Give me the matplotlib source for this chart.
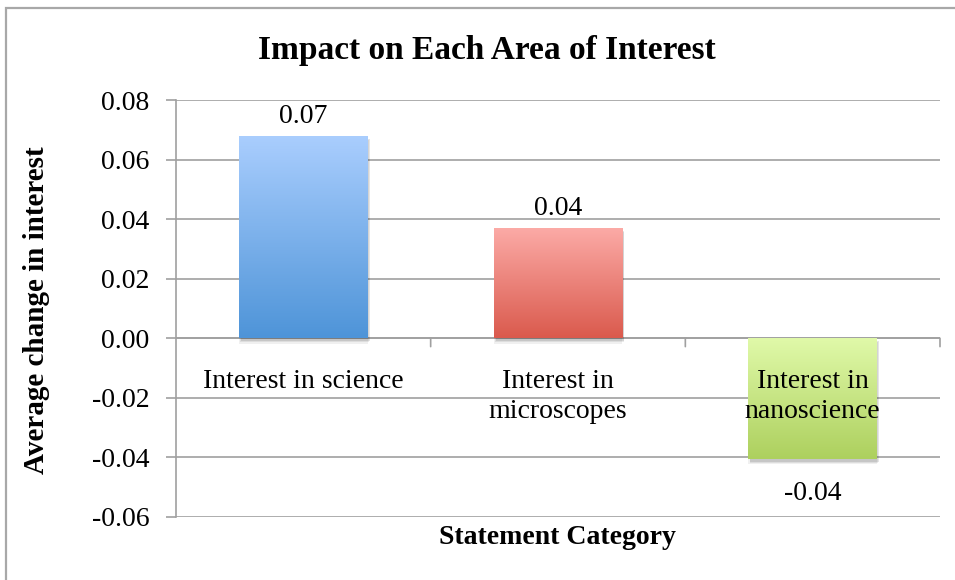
import numpy as np
import matplotlib
matplotlib.use("Agg")
import matplotlib.pyplot as plt
from matplotlib.colors import LinearSegmentedColormap
from matplotlib.patches import Rectangle
import matplotlib.patheffects as pe

categories = ["Interest in science", "Interest in\nmicroscopes", "Interest in\nnanoscience"]
values = [0.068, 0.037, -0.0405]
value_labels = ["0.07", "0.04", "-0.04"]
yticks = [-0.06, -0.04, -0.02, 0.00, 0.02, 0.04, 0.06, 0.08]
ytick_labels = ["-0.06", "-0.04", "-0.02", "0.00", "0.02", "0.04", "0.06", "0.08"]
grad_top = ["#aacefe", "#fcaba7", "#e0f9a9"]
grad_bot = ["#4e94d8", "#da5a4d", "#add05e"]

FONT = "Liberation Serif"
GRID = "#a0a0a0"

fig = plt.figure(figsize=(9.55, 5.8), dpi=100)
ax = fig.add_axes([176/955, 1-517/580, (940-176)/955, (517-100)/580])

# outer frame
fig.patches.append(Rectangle((6/955, -0.05), 1.2, 1-8/580+0.05, transform=fig.transFigure,
                             fill=False, edgecolor="#a8a8a8", linewidth=1.6))

x = np.arange(len(categories))

bars = ax.bar(x, values, width=0.505, color="none", zorder=3)
for i, b in enumerate(bars):
    b.set_path_effects([
        pe.SimplePatchShadow(offset=(0, -4), shadow_rgbFace="#000000", alpha=0.06),
        pe.SimplePatchShadow(offset=(1, -3), shadow_rgbFace="#000000", alpha=0.08),
        pe.SimplePatchShadow(offset=(1.5, -2), shadow_rgbFace="#000000", alpha=0.10),
        pe.Normal()])
    b.set_facecolor(grad_bot[i])
    x0, y0 = b.get_x(), b.get_y()
    w, h = b.get_width(), b.get_height()
    ylo, yhi = min(y0, y0+h), max(y0, y0+h)
    cmap = LinearSegmentedColormap.from_list("g%d" % i, [grad_bot[i], grad_top[i]])
    grad = np.linspace(0, 1, 256).reshape(-1, 1)
    im = ax.imshow(grad, cmap=cmap, origin="lower", aspect="auto",
                   extent=(x0, x0+w, ylo, yhi), zorder=4, interpolation="bilinear")
    im.set_clip_path(b)

ax.set_xlim(-0.5, len(categories)-0.5)
ax.set_ylim(-0.06, 0.08)

# grid
ax.set_yticks(yticks)
ax.set_yticklabels(ytick_labels, fontfamily=FONT, fontsize=20)
ax.yaxis.grid(True, color=GRID, linewidth=1.2, zorder=0)
ax.set_axisbelow(True)
ax.tick_params(axis="y", length=7, width=1.2, color=GRID, pad=12)
for s in ["top", "right", "bottom"]:
    ax.spines[s].set_visible(False)
ax.spines["left"].set_color(GRID)
ax.spines["left"].set_linewidth(1.2)

# x axis at zero
ax.axhline(0, color=GRID, linewidth=1.2, zorder=2)
ax.set_xticks([])
for xb in np.arange(0.5, len(categories), 1.0):
    ax.annotate("", xy=(xb, 0), xycoords="data", xytext=(0, -6), textcoords="offset points",
                arrowprops=dict(arrowstyle="-", color=GRID, linewidth=1.2, shrinkA=0, shrinkB=0))

# category labels below zero line
for i, c in enumerate(categories):
    ax.annotate(c, xy=(x[i], 0), xytext=(0, -22), textcoords="offset points",
                ha="center", va="top", fontfamily=FONT, fontsize=20, zorder=6,
                linespacing=1.25)

# value labels
for i, (v, lab) in enumerate(zip(values, value_labels)):
    off = 5 if v >= 0 else -16
    ax.annotate(lab, xy=(x[i], v), xytext=(0, off), textcoords="offset points",
                ha="center", va="bottom" if v >= 0 else "top",
                fontfamily=FONT, fontsize=20)

fig.text(487/955, 1-51/580, "Impact on Each Area of Interest", ha="center", va="center",
         fontfamily=FONT, fontweight="bold", fontsize=24)
fig.text(36/955, 1-310/580, "Average change in interest", ha="center", va="center",
         rotation=90, fontfamily=FONT, fontweight="bold", fontsize=21)
fig.text(557/955, 1-538/580, "Statement Category", ha="center", va="center",
         fontfamily=FONT, fontweight="bold", fontsize=20)

fig.savefig("out.png", dpi=100)
